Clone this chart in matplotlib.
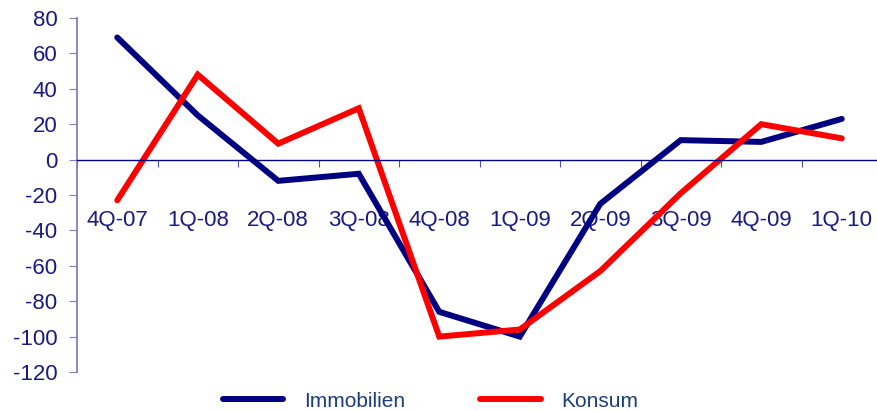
import matplotlib
matplotlib.use("Agg")
import matplotlib.pyplot as plt
import numpy as np

categories = ["4Q-07", "1Q-08", "2Q-08", "3Q-08", "4Q-08", "1Q-09", "2Q-09", "3Q-09", "4Q-09", "1Q-10"]
immobilien = [69, 25, -12, -8, -86, -100, -25, 11, 10, 23]
konsum = [-23, 48, 9, 29, -100, -96, -63, -19, 20, 12]
y_ticks = [80, 60, 40, 20, 0, -20, -40, -60, -80, -100, -120]

plt.rcParams['font.family'] = ['Liberation Sans', 'DejaVu Sans']
navy = "#000080"
txt = "#1a1a80"

fig = plt.figure(figsize=(8.78, 4.11), dpi=100)
ax = fig.add_axes([77/878, 39/411, 805/878, 354/411])

x = np.arange(len(categories))
l1, = ax.plot(x, immobilien, color="#000080", lw=4.3, solid_capstyle="round", solid_joinstyle="miter", label="Immobilien")
l2, = ax.plot(x, konsum, color="#ff0000", lw=4.3, solid_capstyle="round", solid_joinstyle="miter", label="Konsum")

ax.set_xlim(-0.5, len(categories) - 0.5)
ax.set_ylim(-120, 80)
ax.set_yticks(y_ticks)
ax.set_yticklabels([str(v) for v in y_ticks], fontsize=16, color=txt)
ax.tick_params(axis='y', direction='out', length=6, color="#7f7fbf", pad=8)

for s in ["top", "right"]:
    ax.spines[s].set_visible(False)
ax.spines["left"].set_color("#7f7fbf")
ax.spines["left"].set_linewidth(1.3)
ax.spines["bottom"].set_position(("data", 0))
ax.spines["bottom"].set_color(navy)
ax.spines["bottom"].set_linewidth(1.0)

ax.set_xticks(np.arange(-0.5, len(categories), 1.0))
ax.set_xticklabels([])
ax.tick_params(axis='x', which='major', direction='out', length=5, color="#5050a0")
ax.set_xticks(x, minor=True)
ax.set_xticklabels(categories, minor=True, fontsize=16, color=txt)
ax.tick_params(axis='x', which='minor', length=0, pad=36)

leg = fig.legend(handles=[l1, l2], loc="center left", bbox_to_anchor=(223/878, 1 - 401/411), ncol=2,
                 frameon=False, fontsize=15, handlelength=2.9, columnspacing=3.6, handletextpad=1.0,
                 borderpad=0, borderaxespad=0)
for t in leg.get_texts():
    t.set_color("#1c3d7a")

fig.savefig("out.png", dpi=100)
